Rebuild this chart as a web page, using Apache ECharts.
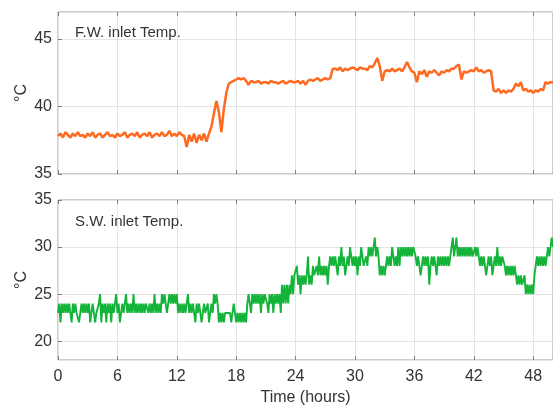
<!DOCTYPE html>
<html>
<head>
<meta charset="utf-8">
<script src="https://cdn.jsdelivr.net/npm/echarts@6/dist/echarts.min.js"></script>
<style>
html, body { margin: 0; padding: 0; background: #fff; }
#chart { width: 553px; height: 407px; }
</style>
</head>
<body>
<div id="chart"></div>
<script>
// F.W. inlet temperature, one value every 0.25 h (4 per group = 1 hour)
var fwStep = 0.25;
var fwTemp = [
    37.8, 38.0, 37.7, 38.1,   37.9, 37.7, 38.0, 37.8,   38.1, 37.8, 37.9, 37.7,
    38.0, 37.8, 38.1, 37.7,   37.9, 38.0, 37.7, 37.9,   38.1, 37.8, 37.9, 37.7,
    38.0, 37.8, 37.9, 38.1,   37.7, 37.9, 38.0, 37.8,   38.1, 37.7, 37.9, 38.0,
    37.8, 38.1, 37.7, 37.9,   38.0, 37.8, 38.1, 37.8,   37.9, 38.2, 37.8, 38.0,
    37.8, 38.1, 37.9, 37.8,   37.0, 37.9, 37.4, 38.0,   37.3, 37.9, 37.5, 38.0,
    37.4, 38.0, 38.5, 39.5,   40.4, 39.6, 38.1, 39.8,   41.0, 41.7, 41.8, 41.9,
    42.0, 42.1, 42.0, 42.1,   41.9, 41.6, 41.9, 41.8,   41.8, 41.9, 41.7, 41.8,
    41.8, 41.7, 41.9, 41.8,   41.8, 41.7, 41.8, 41.9,   41.7, 41.8, 41.9, 41.8,
    41.8, 41.9, 41.7, 41.9,   41.6, 41.9, 42.0, 41.9,   42.0, 42.1, 41.9, 42.0,
    42.1, 42.0, 42.1, 42.8,   42.8, 42.7, 42.9, 42.6,   42.8, 42.7, 42.8, 42.9,
    42.8, 42.7, 42.9, 42.8,   42.8, 42.7, 43.0, 42.9,   43.2, 43.6, 43.0, 41.9,
    42.6, 42.7, 42.6, 42.8,   42.6, 42.7, 42.8, 42.6,   42.9, 43.3, 42.9, 42.6,
    42.5, 41.8, 42.6, 42.4,   42.7, 42.2, 42.6, 42.5,   42.7, 42.5, 42.3, 42.6,
    42.5, 42.7, 42.6, 42.8,   42.8, 43.0, 43.1, 42.0,   42.6, 42.5, 42.6, 42.7,
    42.6, 42.9, 42.6, 42.7,   42.5, 42.6, 42.7, 42.6,   41.2, 41.1, 41.3, 41.0,
    41.2, 41.0, 41.2, 41.1,   41.3, 41.7, 41.5, 41.8,   41.2, 41.3, 41.1, 41.2,
    41.0, 41.2, 41.1, 41.3,   41.2, 41.8, 41.7, 41.8,
    41.8
];

// S.W. inlet temperature, one digit every 0.125 h, value = 22 + digit
// (one string per hour)
var swStep = 0.125;
var swBase = 22;
var swCodes = [
    '12021212', '12102121', '10121212', '12012101', '12302120',
    '21202123', '12012123', '12121312', '12121212', '21212131',
    '21213232', '12323232', '31212121', '13121210', '21210121',
    '12012132', '32010101', '11110121', '01010101', '02321323',
    '23231323', '32132313', '23231424', '24243535', '56453545',
    '45745465', '56575656', '56467676', '76576867', '56768767',
    '67576876', '67687878', '97875656', '56767687', '67686878',
    '78787878', '87676567', '67674676', '76576767', '67676789',
    '78978787', '87878787', '78787676', '76567675', '67686767',
    '76565656', '56545454', '45343434', '35676767', '67678789',
    '8'
];

var panelTitles = ['F.W. inlet Temp.', 'S.W. inlet Temp.'];
var xLabel = 'Time (hours)';
var yLabel = '°C';

var fwData = fwTemp.map(function (v, i) { return [i * fwStep, v]; });
var swData = [];
swCodes.join('').split('').forEach(function (c, i) {
    swData.push([i * swStep, swBase + Number(c)]);
});

var font = "'Liberation Sans', Arial, sans-serif";
var gridLine = { show: true, lineStyle: { color: '#e4e4e4', width: 1 } };
var tick = { inside: true, length: 4, lineStyle: { color: '#808080' } };
var labelText = { color: '#333', fontSize: 16, fontFamily: font };

function xAxisFor(gi, showLabels) {
    return {
        type: 'value', gridIndex: gi, min: 0, max: 50, interval: 6,
        axisLine: { show: false },
        axisTick: tick,
        axisLabel: { show: showLabels, showMaxLabel: false, color: '#333', fontSize: 16, fontFamily: font, margin: 9 },
        splitLine: gridLine,
        name: showLabels ? xLabel : '',
        nameLocation: 'middle', nameGap: 30,
        nameTextStyle: labelText
    };
}
function topTicks(gi) {
    return {
        type: 'value', gridIndex: gi, position: 'top', min: 0, max: 50, interval: 6,
        axisLine: { show: false }, axisTick: tick,
        axisLabel: { show: false }, splitLine: { show: false }
    };
}

var chart = echarts.init(document.getElementById('chart'));
chart.setOption({
    animation: false,
    title: [
        { text: panelTitles[0], left: 70, top: 20, textStyle: { fontSize: 15, fontWeight: 'normal', color: '#333', fontFamily: font } },
        { text: panelTitles[1], left: 70, top: 209, textStyle: { fontSize: 15, fontWeight: 'normal', color: '#333', fontFamily: font } }
    ],
    grid: [
        { left: 58, top: 12, width: 497, height: 162, show: true, borderColor: '#9a9a9a', borderWidth: 1, backgroundColor: 'transparent' },
        { left: 58, top: 200, width: 497, height: 164, show: true, borderColor: '#9a9a9a', borderWidth: 1, backgroundColor: 'transparent' }
    ],
    xAxis: [xAxisFor(0, false), xAxisFor(1, true), topTicks(0), topTicks(1)],
    yAxis: [
        {
            type: 'value', gridIndex: 0, min: 35, max: 47, interval: 5,
            axisLine: { show: false }, axisTick: tick, splitLine: gridLine,
            axisLabel: { showMaxLabel: false, color: '#333', fontSize: 16, fontFamily: font, margin: 6 },
            name: yLabel, nameLocation: 'middle', nameGap: 28, nameMoveOverlap: false,
            nameTextStyle: labelText
        },
        {
            type: 'value', gridIndex: 1, min: 18, max: 35, splitNumber: 4,
            axisLine: { show: false }, axisTick: tick, splitLine: gridLine,
            axisLabel: { showMinLabel: false, color: '#333', fontSize: 16, fontFamily: font, margin: 6 },
            name: yLabel, nameLocation: 'middle', nameGap: 28, nameMoveOverlap: false,
            nameTextStyle: labelText
        }
    ],
    series: [
        {
            name: panelTitles[0], type: 'line', xAxisIndex: 0, yAxisIndex: 0,
            data: fwData, showSymbol: false, sampling: null,
            lineStyle: { color: '#ff6a22', width: 2.5 }
        },
        {
            name: panelTitles[1], type: 'line', xAxisIndex: 1, yAxisIndex: 1,
            data: swData, showSymbol: false, sampling: null,
            lineStyle: { color: '#14b43a', width: 1.9, join: 'bevel' }
        }
    ]
});
</script>
</body>
</html>
